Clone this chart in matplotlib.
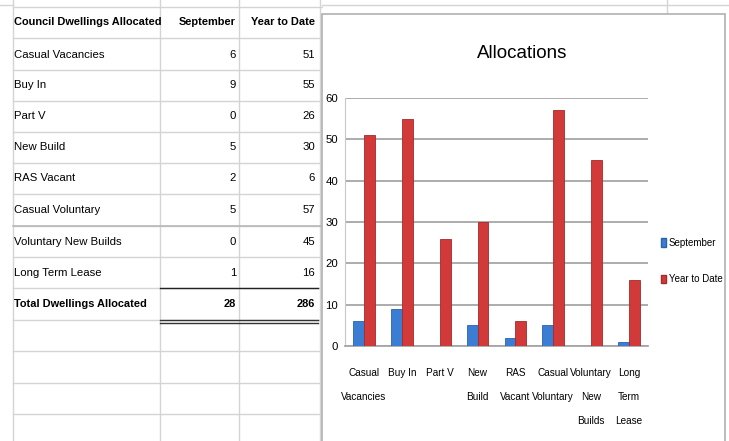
import matplotlib
matplotlib.use("Agg")
import matplotlib.pyplot as plt
from matplotlib.patches import Rectangle, Patch

plt.rcParams['font.family'] = ['Liberation Sans', 'DejaVu Sans']

# ---- data ----
categories = ["Casual Vacancies", "Buy In", "Part V", "New Build", "RAS Vacant",
              "Casual Voluntary", "Voluntary New Builds", "Long Term Lease"]
chart_labels = ["Casual\nVacancies", "Buy In", "Part V", "New\nBuild", "RAS\nVacant",
                "Casual\nVoluntary", "Voluntary\nNew\nBuilds", "Long\nTerm\nLease"]
september = [6, 9, 0, 5, 2, 5, 0, 1]
year_to_date = [51, 55, 26, 30, 6, 57, 45, 16]
header = ["Council Dwellings Allocated", "September", "Year to Date"]
total_label = "Total Dwellings Allocated"
series_names = ["September", "Year to Date"]
title = "Allocations"
yticks = [0, 10, 20, 30, 40, 50, 60]

W, H = 729, 441
fig = plt.figure(figsize=(W / 100, H / 100), dpi=100)
fig.patch.set_facecolor("white")

bg = fig.add_axes([0, 0, 1, 1])
bg.set_xlim(0, W)
bg.set_ylim(H, 0)
bg.axis("off")

grid_c = "#d4d4d4"
row_lines = [7, 38, 70, 101, 132, 163, 194, 226, 257, 288, 320, 351, 383, 414]
for y in row_lines:
    bg.plot([13, 322], [y, y], color=grid_c, lw=1)
for x in [13, 160, 239, 320]:
    bg.plot([x, x], [0, H], color=grid_c, lw=1)
bg.plot([322, W], [5, 5], color=grid_c, lw=1)
bg.plot([667, 667], [0, 14], color=grid_c, lw=1)
bg.plot([0, 13], [5, 5], color=grid_c, lw=1)
bg.plot([13, 322], [226, 226], color="#b8b8b8", lw=1.2)

fs = 8.2
bg.text(14, 22, header[0], fontsize=7.9, fontweight="bold", va="center", ha="left")
bg.text(236, 22, header[1], fontsize=7.9, fontweight="bold", va="center", ha="right")
bg.text(315, 22, header[2], fontsize=7.9, fontweight="bold", va="center", ha="right")
row_y = [55, 85, 116, 147, 178, 210, 242, 273]
for y, name, s, t in zip(row_y, categories, september, year_to_date):
    bg.text(14, y, name, fontsize=fs, va="center", ha="left")
    bg.text(236, y, str(s), fontsize=fs, va="center", ha="right")
    bg.text(315, y, str(t), fontsize=fs, va="center", ha="right")
bg.text(14, 304, total_label, fontsize=7.9, fontweight="bold", va="center", ha="left")
bg.text(236, 304, str(sum(september)), fontsize=7.9, fontweight="bold", va="center", ha="right")
bg.text(315, 304, str(sum(year_to_date)), fontsize=7.9, fontweight="bold", va="center", ha="right")
bg.plot([160, 318], [288, 288], color="#222222", lw=1)
bg.plot([160, 318], [319.5, 319.5], color="#333333", lw=1)
bg.plot([160, 318], [322.5, 322.5], color="#333333", lw=1)

# chart area
bg.add_patch(Rectangle((322, 14), 403, H - 14 + 5, facecolor="white",
                       edgecolor="#b0b0b0", lw=1.2, zorder=5))
bg.text(522, 54, title, fontsize=13.5, ha="center", va="center", zorder=6)

ax = fig.add_axes([345 / W, (H - 346) / H, 303 / W, 248 / H])
ax.set_zorder(10)
ax.patch.set_alpha(0)
n = len(categories)
w = 1 / 3.5
xs = list(range(n))
blue = "#3b7dd3"
red = "#d23a3a"
ax.bar([x - w / 2 for x in xs], september, width=w, color=blue, edgecolor="#2c62ad", lw=0.6, zorder=3)
ax.bar([x + w / 2 for x in xs], year_to_date, width=w, color=red, edgecolor="#a52a2a", lw=0.6, zorder=3)
ax.set_xlim(-0.5, n - 0.5)
ax.set_ylim(0, 60)
ax.set_yticks(yticks)
ax.yaxis.grid(True, color="#a6a6a6", lw=1.3)
ax.set_axisbelow(True)
for sp in ["top", "right"]:
    ax.spines[sp].set_visible(False)
ax.spines["left"].set_color("#c8c8c8")
ax.spines["bottom"].set_color("#a6a6a6")
ax.spines["bottom"].set_linewidth(1.3)
ax.set_xticks(xs)
ax.set_xticklabels(chart_labels, fontsize=7.2, linespacing=2.75)
ax.tick_params(axis="x", length=0, pad=15.5)
ax.tick_params(axis="y", length=0, labelsize=8.2, pad=5)

handles = [Patch(facecolor=blue, edgecolor="#2c62ad"), Patch(facecolor=red, edgecolor="#a52a2a")]
fig.legend(handles, series_names, loc="center left", bbox_to_anchor=(652 / W, 1 - 261 / H),
           frameon=False, fontsize=7.0, handlelength=0.5, handleheight=1.0,
           handletextpad=0.3, labelspacing=2.75)

fig.savefig("out.png", dpi=100)
